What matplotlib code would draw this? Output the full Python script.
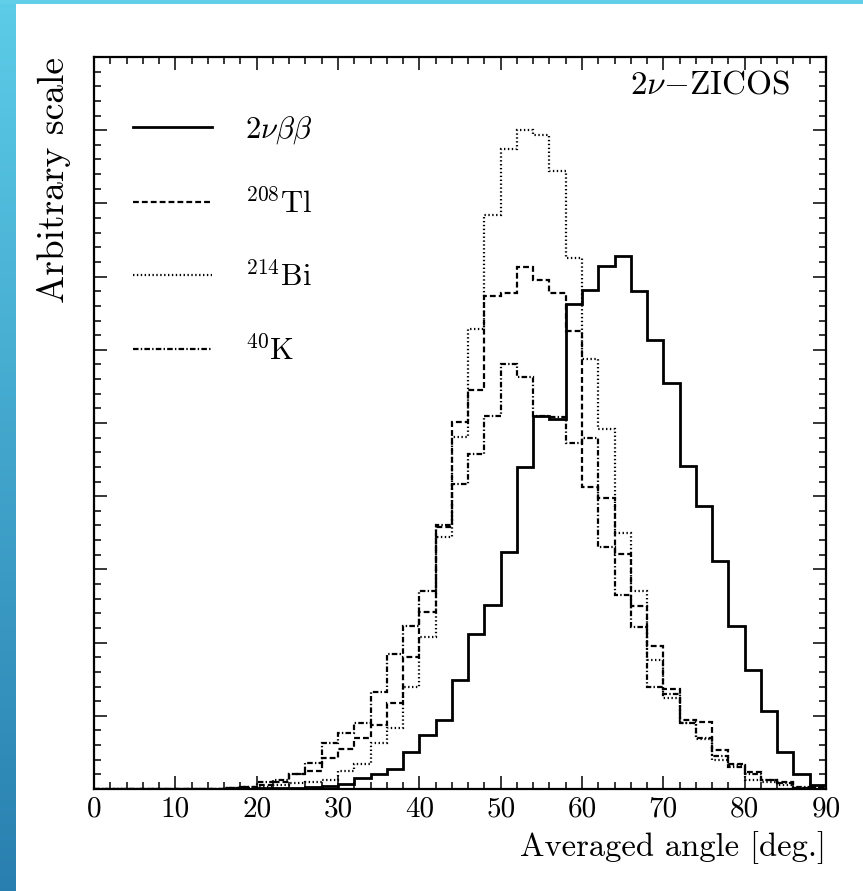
import numpy as np
import matplotlib
matplotlib.use("Agg")
import matplotlib.pyplot as plt
from matplotlib.ticker import MultipleLocator, NullFormatter
from matplotlib.patches import Rectangle
from matplotlib.legend import Legend

# ---------------- data (2-degree bins, 0..90 deg) ----------------
bin_edges = np.arange(0, 92, 2)

two_nu_bb = [0, 0, 0, 0, 0, 0, 0, 0, 0, 0.0,
             0.01, 0.01, 0.02, 0.03, 0.04, 0.07, 0.15, 0.21, 0.28, 0.51,
             0.74, 0.94, 1.49, 2.12, 2.51, 3.24, 4.40, 5.10, 5.05, 6.63,
             6.82, 7.14, 7.28, 6.81, 6.13, 5.54, 4.41, 3.86, 3.11, 2.22,
             1.62, 1.07, 0.50, 0.20, 0.055]

tl208 = [0, 0, 0, 0, 0, 0, 0, 0, 0.02, 0.03,
         0.05, 0.10, 0.20, 0.25, 0.42, 0.55, 0.70, 0.87, 1.18, 1.80,
         2.42, 3.58, 5.02, 5.45, 6.74, 6.77, 7.13, 6.95, 6.77, 6.25,
         4.12, 3.97, 3.21, 2.50, 1.96, 1.36, 0.94, 0.92, 0.53, 0.34,
         0.23, 0.12, 0.10, 0.02, 0.03]

bi214 = [0, 0, 0, 0, 0, 0, 0, 0, 0.01, 0.02,
         0.03, 0.05, 0.08, 0.10, 0.12, 0.24, 0.34, 0.63, 0.83, 1.39,
         2.08, 3.44, 4.81, 6.29, 7.84, 8.74, 9.00, 8.94, 8.44, 7.26,
         5.88, 4.92, 3.50, 2.71, 1.76, 1.24, 0.90, 0.68, 0.40, 0.33,
         0.12, 0.10, 0.05, 0.02, 0.02]

k40 = [0, 0, 0, 0, 0, 0, 0, 0, 0.02, 0.03,
       0.10, 0.12, 0.20, 0.35, 0.63, 0.76, 0.90, 1.33, 1.85, 2.23,
       2.71, 3.60, 4.17, 4.58, 5.10, 5.81, 5.63, 5.10, 5.08, 4.72,
       4.79, 3.31, 2.65, 2.21, 1.40, 1.30, 0.90, 0.70, 0.45, 0.30,
       0.20, 0.12, 0.08, 0.03, 0.02]

labels = [r"$2\nu\beta\beta$", r"$^{208}\mathrm{Tl}$", r"$^{214}\mathrm{Bi}$", r"$^{40}\mathrm{K}$"]
x_tick_labels = ["0", "10", "20", "30", "40", "50", "60", "70", "80", "90"]

# ---------------- style ----------------
plt.rcParams["font.family"] = ["cmr10", "DejaVu Serif"]
plt.rcParams["mathtext.fontset"] = "cm"
plt.rcParams["axes.formatter.use_mathtext"] = True
plt.rcParams["lines.scale_dashes"] = False

W, H = 863, 891
fig = plt.figure(figsize=(W / 100, H / 100), dpi=100)
fig.patch.set_facecolor("white")

# blue gradient frame (left strip and top strip)
gax = fig.add_axes([0, 0, 15 / W, 1])
grad = np.linspace(0, 1, 256)[:, None]
c_top = np.array([0.36, 0.80, 0.91])
c_bot = np.array([0.16, 0.50, 0.69])
img = c_top[None, None, :] * (1 - grad[..., None]) + c_bot[None, None, :] * grad[..., None]
gax.imshow(img, aspect="auto", extent=[0, 1, 0, 1])
gax.set_axis_off()
fig.patches.append(Rectangle((0, 1 - 4 / H), 1, 4 / H, transform=fig.transFigure,
                             facecolor=(0.38, 0.81, 0.91), edgecolor="none", zorder=5))

ax = fig.add_axes([94 / W, 1 - 789 / H, 732 / W, 732 / H])

styles = [
    dict(linestyle="-", lw=2.0),
    dict(linestyle=(0, (4.2, 2.2)), lw=1.6),
    dict(linestyle=(0, (1.0, 1.8)), lw=1.6),
    dict(linestyle=(0, (4.0, 1.6, 1.0, 1.6)), lw=1.6),
]
series = [two_nu_bb, tl208, bi214, k40]
handles = []
for vals, st, lab in zip(series, styles, labels):
    ax.stairs(vals, bin_edges, color="black", baseline=None, **st)
    h, = ax.plot([], [], color="black", **st)
    handles.append(h)

ax.set_xlim(0, 90)
ax.set_ylim(0, 10)
ax.xaxis.set_major_locator(MultipleLocator(10))
ax.xaxis.set_minor_locator(MultipleLocator(2))
ax.yaxis.set_major_locator(MultipleLocator(1))
ax.yaxis.set_minor_locator(MultipleLocator(0.2))
ax.set_xticks(np.arange(0, 91, 10))
ax.set_xticklabels(x_tick_labels)
ax.yaxis.set_major_formatter(NullFormatter())
ax.tick_params(which="both", direction="in", top=True, right=True, width=1.1, color="black")
ax.tick_params(which="major", length=9.5, labelsize=21, pad=5)
ax.tick_params(which="minor", length=5)
for s in ax.spines.values():
    s.set_linewidth(1.6)

ax.set_xlabel("Averaged angle [deg.]", fontsize=23.5, loc="right")
ax.xaxis.set_label_coords(1.0, -0.057)
ax.set_ylabel("Arbitrary scale", fontsize=27, loc="top")
ax.yaxis.set_label_coords(-0.032, 1.0)

ax.text(0.951, 0.962, r"$2\nu{-}\mathrm{ZICOS}$", transform=ax.transAxes, ha="right", va="center",
        fontsize=24)

# legend: one entry per row, rows evenly spaced (one major tick apart)
row_y = [0.9, 0.8, 0.7, 0.6]
for h, lab, yy in zip(handles, labels, row_y):
    lg = Legend(ax, [h], [lab], loc="center left", bbox_to_anchor=(0.0533, yy),
                bbox_transform=ax.transAxes, frameon=False, fontsize=22,
                handlelength=2.6, handletextpad=1.05, borderpad=0, borderaxespad=0)
    ax.add_artist(lg)

fig.savefig("out.png", dpi=100)
